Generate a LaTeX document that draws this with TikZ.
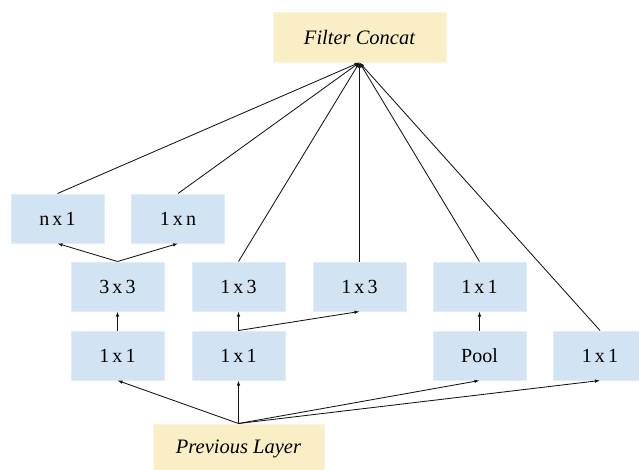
\documentclass[tikz,border=0pt]{standalone}
\usepackage{fontspec}
\setmainfont{Liberation Serif}
\usetikzlibrary{arrows.meta}
\definecolor{boxblue}{RGB}{210,228,244}
\definecolor{boxedge}{RGB}{224,236,248}
\definecolor{cream}{RGB}{249,238,198}
\definecolor{creamedge}{RGB}{250,244,222}
\definecolor{linecol}{RGB}{20,20,20}
\tikzset{
  op/.style={rectangle, fill=boxblue, draw=boxedge, line width=1pt,
    minimum width=93pt, minimum height=49pt, inner sep=0pt,
    font={\fontsize{20}{22}\selectfont\spaceskip=3.2pt\relax}},
  layer/.style={rectangle, fill=cream, draw=creamedge, line width=1pt,
    minimum height=50pt, inner sep=0pt,
    font={\fontsize{20.5}{22}\selectfont\itshape}},
  conn/.style={draw=linecol, line width=0.85pt},
  arr/.style={conn, -{Latex[length=5pt,width=3.5pt]}}
}
\begin{document}
\begin{tikzpicture}[x=1pt,y=-1pt]
\useasboundingbox (0,0) rectangle (639,469);
\node[layer, minimum width=173pt] (concat) at (359.5,37) {Filter Concat};
\node[layer, minimum width=171pt] (prev) at (238.5,449) {Previous Layer};

\node[op] (nx1) at (57.5,218.5) {n x 1};
\node[op] (1xn) at (178,218.5) {1 x n};

\node[op] (c33) at (117.5,286.5) {3 x 3};
\node[op] (c13a) at (238.5,286.5) {1 x 3};
\node[op] (c13b) at (359.5,286.5) {1 x 3};
\node[op] (c11p) at (479.5,286.5) {1 x 1};

\node[op] (b11a) at (117.5,355.5) {1 x 1};
\node[op] (b11b) at (238.5,355.5) {1 x 1};
\node[op] (pool) at (479.5,355.5) {Pool};
\node[op] (b11c) at (600,355.5) {1 x 1};

% to concat
\foreach \n in {nx1,1xn,c13a,c13b,c11p,b11c}
  \draw[arr] (\n.north) -- (concat.south);

% previous layer fan-out
\foreach \n in {b11a,b11b,pool,b11c}
  \draw[arr] (prev.north) -- (\n.south);

% inner connections
\draw[arr] (b11a.north) -- (c33.south);
\draw[arr] (c33.north) -- (nx1.south);
\draw[arr] (c33.north) -- (1xn.south);
\draw[arr] (b11b.north) -- (c13a.south);
\draw[arr] (b11b.north) -- (c13b.south);
\draw[arr] (pool.north) -- (c11p.south);
\end{tikzpicture}
\end{document}
